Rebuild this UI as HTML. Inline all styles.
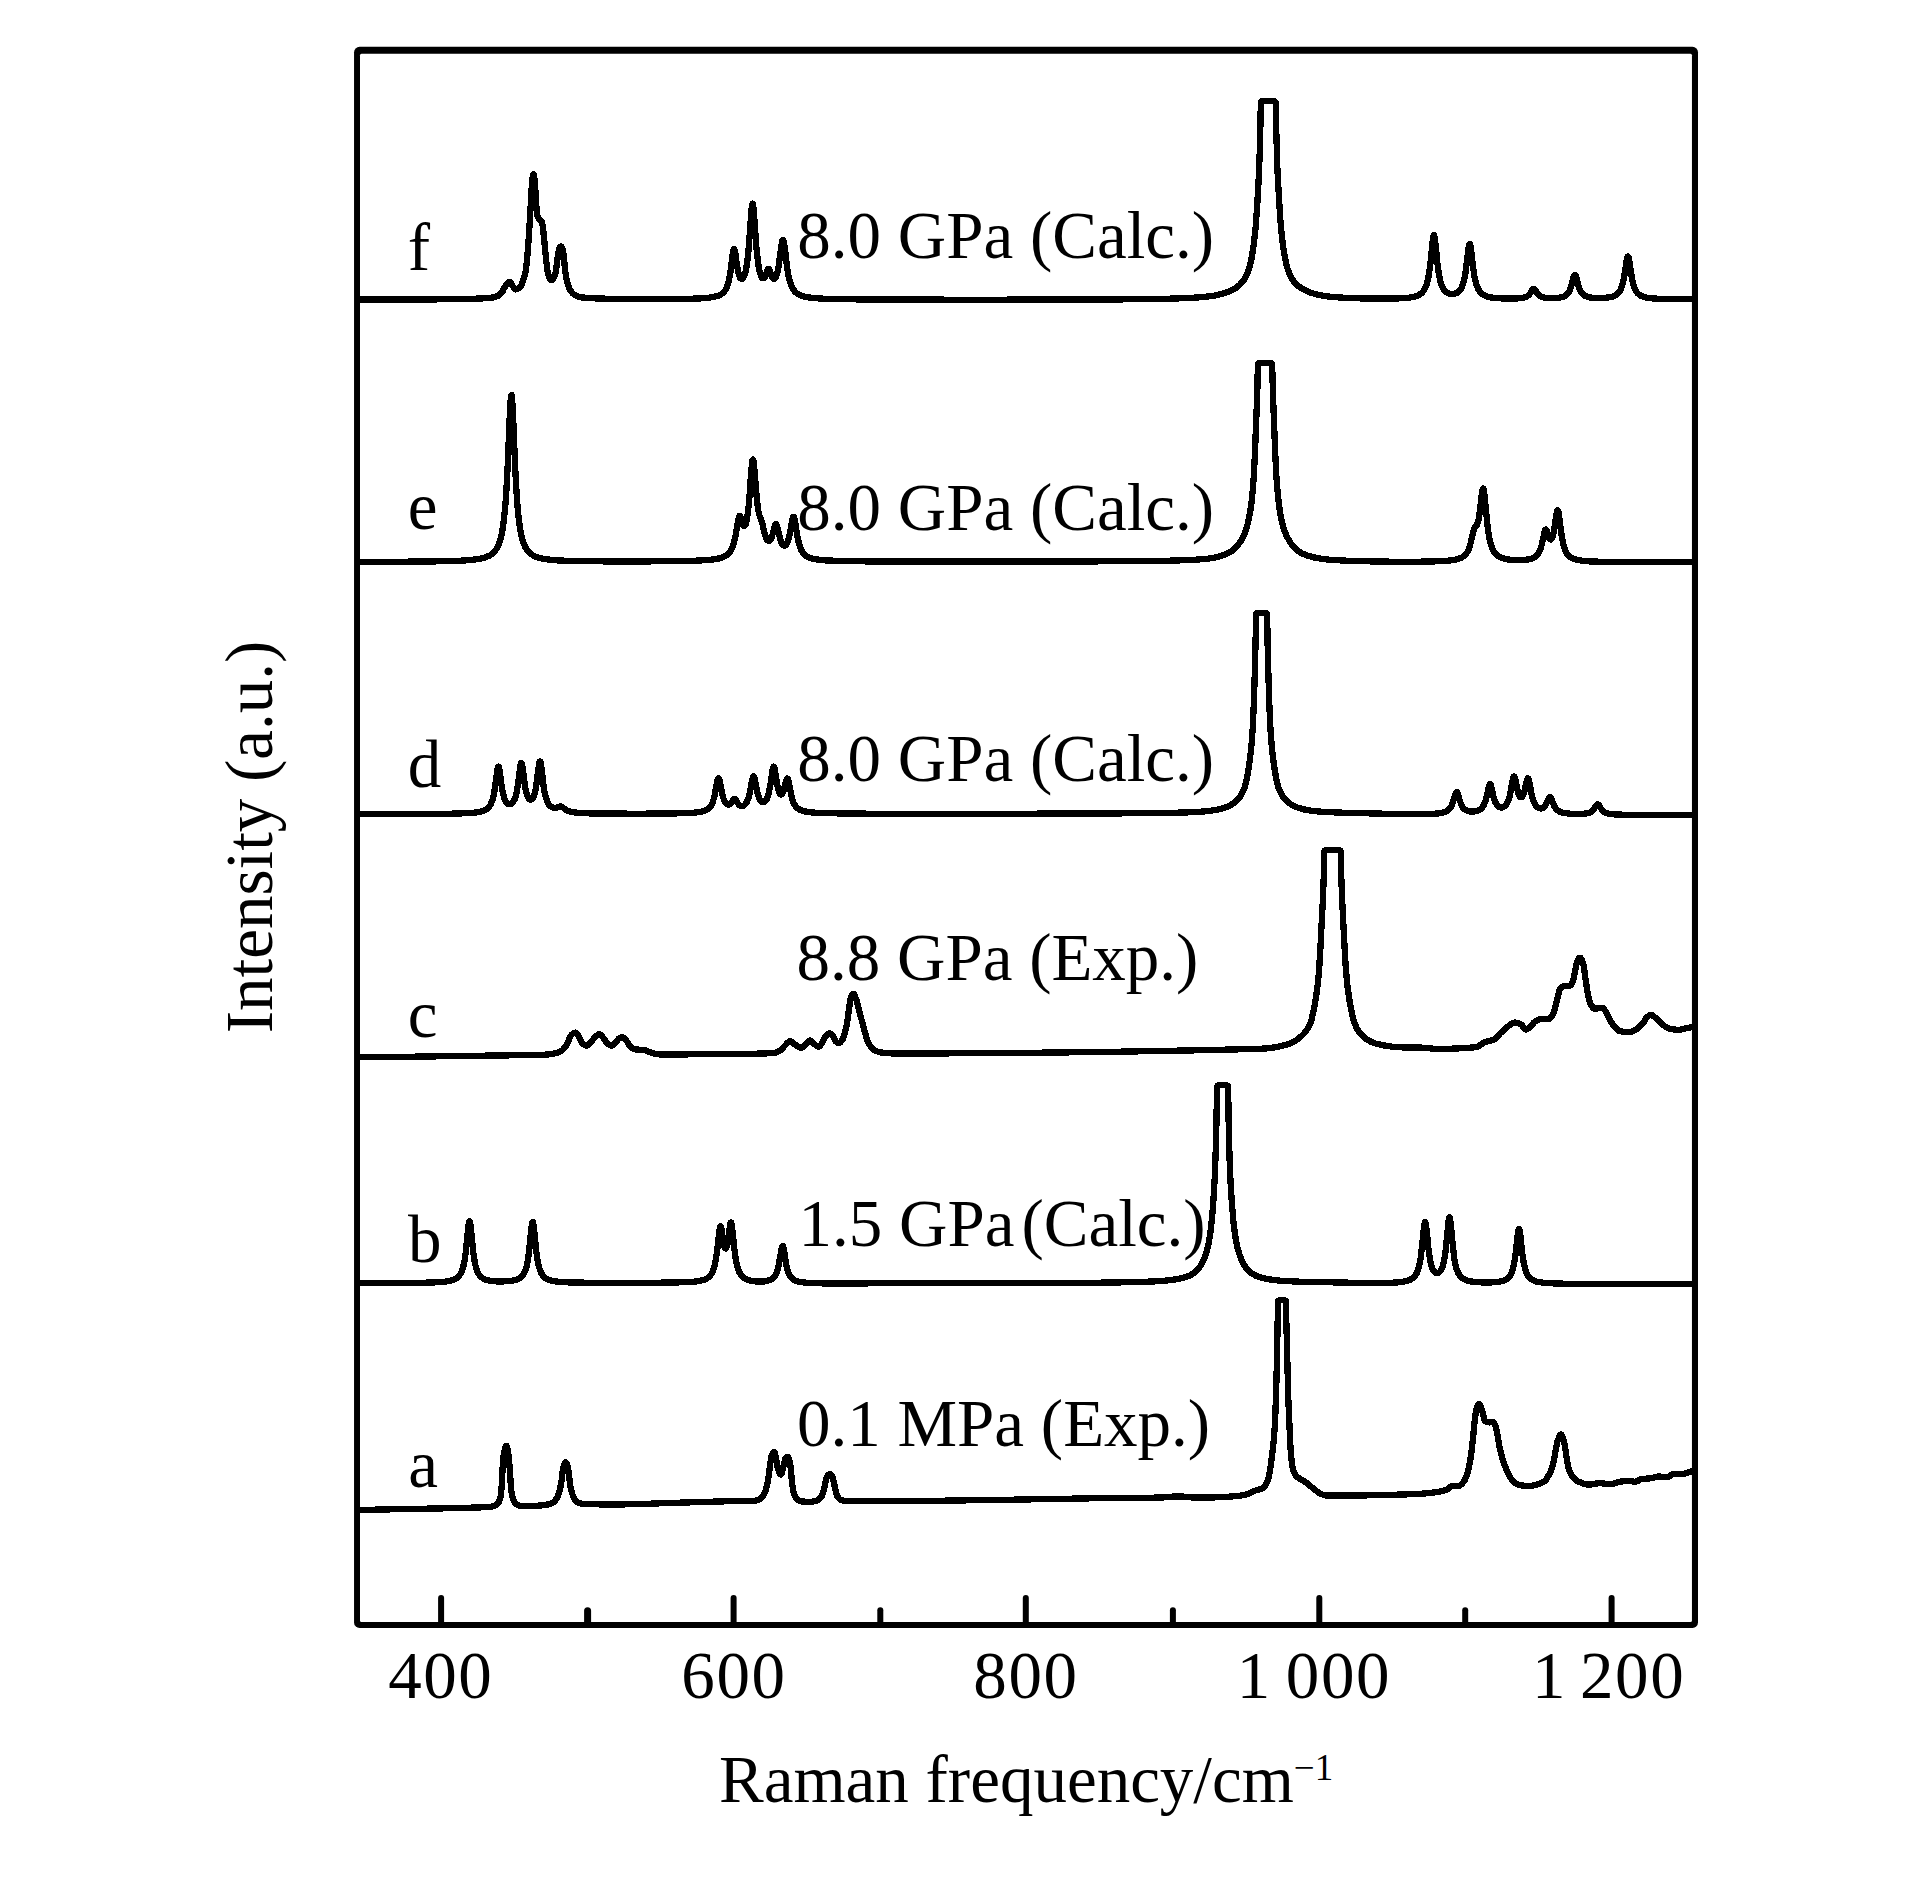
<!DOCTYPE html>
<html lang="en">
<head>
<meta charset="utf-8">
<title>Raman spectra</title>
<style>
html,body{margin:0;padding:0;background:#fff;}
body{width:1923px;height:1883px;overflow:hidden;}
svg{display:block;}
text{font-family:"Liberation Serif",serif;font-size:67px;fill:#000;}
.c{fill:none;stroke:#000;stroke-width:6.3;stroke-linejoin:round;stroke-linecap:butt;shape-rendering:crispEdges;}
.u{fill:none;stroke:#000;stroke-width:4;stroke-linejoin:round;stroke-linecap:butt;}
</style>
</head>
<body>
<svg width="1923" height="1883" viewBox="0 0 1923 1883">
<rect x="0" y="0" width="1923" height="1883" fill="#fff"/>
<rect x="354.05" y="46.8" width="1343.95" height="1581.1" rx="5.5" ry="5.5" fill="#000"/>
<rect x="360.0" y="53.7" width="1331.95" height="1568.4" rx="1.5" ry="1.5" fill="#fff"/>
<line x1="441.1" y1="1623" x2="441.1" y2="1598" stroke="#000" stroke-width="6" stroke-linecap="round"/>
<line x1="733.6" y1="1623" x2="733.6" y2="1598" stroke="#000" stroke-width="6" stroke-linecap="round"/>
<line x1="1025.8" y1="1623" x2="1025.8" y2="1598" stroke="#000" stroke-width="6" stroke-linecap="round"/>
<line x1="1319.3" y1="1623" x2="1319.3" y2="1598" stroke="#000" stroke-width="6" stroke-linecap="round"/>
<line x1="1611.6" y1="1623" x2="1611.6" y2="1598" stroke="#000" stroke-width="6" stroke-linecap="round"/>
<line x1="587.6" y1="1623" x2="587.6" y2="1610.7" stroke="#000" stroke-width="7.0" stroke-linecap="round"/>
<line x1="880.3" y1="1623" x2="880.3" y2="1610.2" stroke="#000" stroke-width="6.0" stroke-linecap="round"/>
<line x1="1172.9" y1="1623" x2="1172.9" y2="1610.2" stroke="#000" stroke-width="6.0" stroke-linecap="round"/>
<line x1="1465.2" y1="1623" x2="1465.2" y2="1610.2" stroke="#000" stroke-width="6.0" stroke-linecap="round"/>
<defs>
<path id="curve-f" d="M357.0,299.6 412.8,299.5 447.5,299.3 459.8,299.1 469.8,298.9 477.8,298.6 484.2,298.3 490.0,297.8 491.2,297.7 492.8,297.5 494.2,297.1 495.8,296.7 498.0,295.8 498.8,295.4 499.5,294.8 500.2,294.2 502.0,292.2 502.8,291.0 504.2,288.0 505.0,286.7 507.5,283.2 508.2,282.4 509.0,282.0 509.5,281.9 509.8,282.0 510.0,282.1 510.5,282.6 511.0,283.3 512.8,286.2 514.5,288.4 515.2,289.1 515.8,289.4 516.5,289.3 517.2,289.1 518.2,288.5 519.8,287.1 520.8,286.0 521.2,285.2 521.8,284.2 522.8,281.6 524.0,277.9 524.8,275.1 525.8,270.2 526.2,266.8 526.8,262.3 527.5,254.5 528.8,237.5 529.8,221.1 532.0,182.0 532.2,179.5 532.8,176.3 533.0,175.1 533.2,174.4 533.5,174.4 533.8,174.9 534.0,176.0 534.5,179.2 534.8,181.4 536.5,208.4 536.8,212.0 537.0,214.2 537.5,216.0 537.8,216.6 538.2,217.7 538.8,218.4 539.8,219.7 541.0,220.7 541.5,221.2 541.8,221.6 542.0,222.2 542.2,223.2 542.8,226.1 543.2,229.7 546.2,260.3 547.2,268.9 547.8,272.3 548.0,273.6 549.0,276.5 549.8,278.2 550.5,279.5 551.0,280.0 551.2,280.2 551.8,280.3 552.2,280.1 552.5,279.9 553.0,279.3 553.5,278.5 554.2,276.8 555.2,274.1 555.5,273.1 555.8,271.8 557.0,262.8 558.0,254.6 558.5,251.7 559.0,249.3 559.2,248.5 559.8,247.6 560.2,246.9 560.8,246.5 561.0,246.4 561.2,246.4 561.5,246.6 562.0,247.5 562.5,248.7 563.0,250.4 563.5,254.0 565.2,271.1 566.0,276.4 566.5,279.3 567.0,281.5 568.0,285.1 568.8,287.2 569.5,288.8 571.0,291.2 572.2,292.8 573.5,294.0 574.2,294.5 575.0,295.0 577.2,296.1 579.2,296.9 581.0,297.3 587.0,297.9 593.2,298.3 600.0,298.5 609.0,298.8 618.2,299.0 633.8,299.2 652.0,299.2 669.2,299.1 683.5,299.0 691.8,298.7 698.5,298.5 704.0,298.1 708.8,297.7 712.5,297.1 715.8,296.4 718.2,295.7 719.5,295.1 720.5,294.6 721.8,293.8 723.0,292.8 724.0,291.8 725.0,290.6 726.0,288.9 726.8,287.4 727.5,285.4 728.0,283.9 729.0,280.0 730.0,274.8 731.0,268.0 732.5,255.9 733.0,252.4 733.5,249.9 733.8,249.2 734.0,248.9 734.2,249.0 734.5,249.5 735.0,251.5 735.5,254.5 737.0,265.2 737.8,269.6 738.5,273.1 739.0,274.9 739.5,276.4 740.0,277.4 740.2,277.9 740.8,278.5 741.2,278.8 741.5,278.9 742.0,278.9 742.5,278.7 742.8,278.5 743.2,277.9 744.0,276.5 744.5,275.3 745.0,273.7 745.5,271.8 746.2,268.3 747.0,263.6 747.8,257.7 748.5,250.3 749.0,244.4 751.0,216.2 751.5,210.0 752.0,205.5 752.2,204.2 752.5,203.6 752.8,203.6 753.0,204.4 753.2,205.9 753.8,210.5 754.2,216.8 755.5,235.0 756.2,245.0 757.0,253.4 757.8,260.1 758.5,265.5 759.0,268.4 759.5,270.8 760.0,272.8 760.5,274.4 761.0,275.8 761.5,276.8 762.2,277.9 762.5,278.1 763.0,278.3 763.5,278.3 763.8,278.3 764.2,277.9 764.8,277.2 765.5,275.8 766.0,274.5 767.2,270.8 767.8,269.6 768.2,268.8 768.5,268.7 768.8,268.7 769.0,268.9 769.5,269.8 770.0,271.1 771.5,275.5 772.2,277.2 772.8,278.0 773.2,278.5 773.5,278.7 774.0,278.8 774.5,278.7 774.8,278.5 775.2,277.9 775.5,277.6 776.2,276.0 776.8,274.6 777.5,271.9 778.0,269.6 778.5,267.0 779.2,262.2 781.2,246.9 781.8,243.6 782.2,241.1 782.5,240.3 782.8,239.8 783.0,239.7 783.2,240.0 783.5,240.6 783.8,241.5 784.2,244.3 784.8,247.9 786.8,264.5 787.5,269.8 788.2,274.2 789.0,277.9 789.8,280.9 790.5,283.4 791.2,285.5 791.8,286.6 792.5,288.1 793.8,290.1 794.5,291.1 795.2,291.9 796.8,293.2 798.5,294.4 799.5,294.9 800.8,295.5 803.2,296.3 806.2,297.0 809.8,297.6 813.8,298.0 818.5,298.4 824.2,298.7 831.0,299.0 839.2,299.2 861.5,299.4 904.5,299.6 972.8,299.7 1049.0,299.6 1105.2,299.5 1131.2,299.3 1152.2,299.0 1169.2,298.7 1183.0,298.2 1194.0,297.7 1200.5,297.2 1204.2,296.9 1208.0,296.5 1211.5,296.0 1214.8,295.5 1217.8,294.9 1221.2,294.0 1224.8,293.0 1228.0,291.8 1231.0,290.6 1233.5,289.3 1236.0,287.8 1238.0,286.3 1240.0,284.5 1241.8,282.6 1243.5,280.4 1245.0,278.1 1246.2,275.8 1247.5,273.0 1248.5,270.3 1249.5,267.1 1250.5,263.3 1251.5,258.6 1252.2,254.4 1253.0,249.6 1253.8,244.3 1255.0,233.6 1255.8,225.7 1256.2,219.7 1257.0,208.6 1258.5,182.8 1259.2,166.7 1259.8,150.9 1260.5,121.7 1260.8,103.1 1261.0,102.1 1261.5,101.4 1262.2,101.0 1263.0,100.9 1273.5,100.9 1274.0,100.9 1274.8,101.3 1275.2,101.7 1275.5,102.1 1275.8,103.1 1276.0,117.5 1276.2,127.8 1277.2,163.9 1277.5,170.5 1278.0,181.0 1279.8,211.0 1280.2,218.4 1280.8,224.6 1281.5,232.6 1282.2,239.4 1283.0,245.4 1284.0,252.3 1284.8,256.7 1285.8,261.8 1286.5,264.9 1287.2,267.6 1288.0,270.0 1289.0,272.8 1289.8,274.6 1290.8,276.6 1291.8,278.4 1292.8,279.9 1294.0,281.6 1295.5,283.4 1297.0,284.9 1298.5,286.2 1300.0,287.3 1301.8,288.5 1303.8,289.6 1305.8,290.6 1309.5,292.2 1311.5,292.9 1313.8,293.6 1318.2,294.8 1323.2,295.7 1328.2,296.5 1333.8,297.0 1341.8,297.6 1349.5,298.0 1361.8,298.4 1375.2,298.6 1387.8,298.6 1398.0,298.4 1404.8,298.1 1407.8,297.8 1410.2,297.5 1412.5,297.1 1414.5,296.6 1416.2,296.1 1417.8,295.5 1419.5,294.6 1421.0,293.6 1422.2,292.5 1423.5,290.9 1424.5,289.4 1425.5,287.3 1426.5,284.7 1427.2,282.2 1428.0,279.0 1428.5,276.5 1429.2,272.0 1429.8,268.4 1430.8,259.7 1432.5,242.2 1433.0,238.3 1433.2,236.9 1433.5,235.8 1433.8,235.3 1434.0,235.2 1434.2,235.7 1434.5,236.6 1435.0,239.6 1435.5,243.9 1437.2,261.3 1438.2,269.5 1439.2,275.8 1439.8,278.4 1440.5,281.5 1441.2,284.0 1442.2,286.6 1443.2,288.5 1444.2,290.0 1445.5,291.4 1446.8,292.4 1448.2,293.2 1449.8,293.7 1450.8,293.9 1451.8,294.0 1452.8,294.0 1453.8,293.9 1454.8,293.7 1455.5,293.5 1456.5,293.1 1457.2,292.7 1458.0,292.2 1458.8,291.6 1460.0,290.2 1460.8,289.1 1461.2,288.3 1462.2,286.1 1463.0,284.0 1463.8,281.4 1464.5,278.2 1465.0,275.6 1465.8,270.9 1466.2,267.2 1468.5,248.5 1469.0,245.6 1469.2,244.7 1469.5,244.1 1469.8,244.0 1470.0,244.3 1470.2,245.0 1470.5,246.1 1471.0,249.3 1473.0,266.3 1473.8,271.9 1474.2,275.1 1474.8,277.9 1475.5,281.4 1476.0,283.3 1476.8,285.7 1477.8,288.2 1478.8,290.1 1480.0,291.9 1481.2,293.3 1482.8,294.5 1484.2,295.3 1486.2,296.2 1488.5,296.9 1491.5,297.5 1495.0,297.9 1499.2,298.3 1504.2,298.5 1510.0,298.6 1515.2,298.5 1519.2,298.3 1522.5,297.9 1524.2,297.5 1525.8,297.0 1527.0,296.4 1528.0,295.7 1529.0,294.8 1529.8,293.9 1530.5,292.8 1532.2,290.0 1532.8,289.4 1533.2,288.9 1533.8,288.8 1534.2,289.0 1534.8,289.5 1535.2,290.1 1537.2,293.3 1538.0,294.3 1538.8,295.1 1539.5,295.7 1540.5,296.4 1541.5,296.9 1542.8,297.3 1544.5,297.7 1546.5,298.0 1549.0,298.2 1551.8,298.2 1554.5,298.1 1557.2,297.9 1559.5,297.6 1561.5,297.2 1562.8,296.8 1563.8,296.4 1564.8,295.9 1565.8,295.3 1566.5,294.7 1567.2,294.0 1568.0,293.1 1568.8,292.0 1569.5,290.6 1570.0,289.5 1571.0,286.7 1571.8,284.2 1573.2,278.4 1574.0,276.0 1574.5,275.0 1574.8,274.8 1575.0,274.8 1575.2,275.0 1575.5,275.3 1576.0,276.5 1576.5,278.2 1578.5,285.7 1579.2,288.0 1580.2,290.4 1581.2,292.2 1582.2,293.6 1583.5,294.8 1584.8,295.7 1585.8,296.2 1586.8,296.6 1588.0,297.0 1589.2,297.3 1592.2,297.8 1596.0,298.0 1600.8,298.1 1605.2,297.8 1609.0,297.4 1610.5,297.1 1612.0,296.7 1613.8,296.1 1615.2,295.4 1616.5,294.6 1617.8,293.6 1618.8,292.4 1619.8,291.0 1620.5,289.6 1621.2,287.9 1622.0,285.8 1622.5,284.1 1623.2,281.1 1623.8,278.7 1624.8,272.8 1626.5,261.1 1627.0,258.5 1627.2,257.5 1627.5,256.8 1627.8,256.5 1628.0,256.4 1628.2,256.7 1628.5,257.3 1629.0,259.4 1629.5,262.3 1631.0,272.6 1631.8,277.1 1632.8,282.0 1633.8,285.7 1634.2,287.2 1635.0,289.1 1635.5,290.1 1636.2,291.4 1637.0,292.5 1638.0,293.6 1639.0,294.5 1640.0,295.2 1641.2,295.9 1642.5,296.5 1644.0,297.0 1645.5,297.3 1647.2,297.7 1649.2,298.0 1654.0,298.5 1660.2,298.8 1668.2,299.1 1679.2,299.2 1694.5,299.3"/>
<path id="curve-e" d="M357.0,561.8 403.5,561.7 433.2,561.4 444.2,561.2 453.2,561.0 460.8,560.7 467.0,560.3 472.5,559.8 477.2,559.2 481.2,558.5 484.5,557.6 486.0,557.1 487.5,556.5 488.8,556.0 490.0,555.3 491.2,554.5 492.2,553.7 494.0,552.1 495.0,550.9 495.8,549.9 496.8,548.4 497.5,547.0 498.2,545.4 499.0,543.6 500.2,539.8 501.0,537.0 501.5,534.9 502.5,529.7 503.5,523.1 504.2,516.8 505.0,509.1 505.8,499.8 506.5,488.3 507.0,479.4 507.8,463.9 509.5,421.7 510.2,405.9 510.8,398.6 511.0,396.4 511.2,395.2 511.5,395.1 511.8,396.1 512.0,398.1 512.2,401.1 512.8,409.7 515.2,468.3 516.0,483.1 516.8,495.5 517.5,505.6 518.5,516.3 519.5,524.5 520.5,530.8 521.2,534.6 522.0,537.8 522.8,540.5 523.5,542.8 524.2,544.7 525.2,546.9 526.2,548.7 527.5,550.5 528.8,552.0 530.0,553.2 531.5,554.4 533.0,555.3 534.8,556.3 536.5,557.0 538.8,557.7 541.0,558.3 543.5,558.8 546.5,559.3 549.8,559.7 553.5,560.1 557.8,560.4 562.5,560.6 574.0,561.0 590.5,561.3 612.5,561.4 640.0,561.4 665.0,561.3 679.0,561.1 690.2,560.9 699.2,560.5 706.5,560.1 712.2,559.5 714.8,559.2 717.0,558.8 719.0,558.4 720.8,557.9 722.5,557.3 724.0,556.7 725.5,555.9 727.0,554.9 728.2,553.8 729.2,552.7 730.2,551.4 731.2,549.8 732.0,548.3 732.8,546.5 733.5,544.3 734.0,542.5 735.0,538.4 736.0,533.2 737.8,522.5 738.2,519.7 738.8,517.6 739.2,516.2 739.5,515.9 739.8,515.8 740.0,515.9 740.2,516.2 740.5,516.8 741.0,518.2 742.2,522.4 742.8,523.9 743.2,525.0 743.8,525.7 744.0,525.9 744.2,526.0 744.5,525.9 744.8,525.8 745.0,525.5 745.5,524.6 746.0,523.2 746.8,520.0 747.2,517.2 747.8,513.7 748.2,509.5 748.8,504.6 749.5,495.9 751.2,472.0 751.8,466.1 752.2,461.8 752.5,460.4 752.8,459.7 753.0,459.5 753.2,460.0 753.5,461.1 754.0,464.9 754.5,470.3 756.0,489.7 756.8,498.2 757.5,505.0 758.2,510.2 758.8,512.7 759.5,515.5 761.2,520.0 762.0,522.3 762.8,525.3 764.2,531.7 765.0,534.5 766.0,537.5 766.5,538.6 767.0,539.6 767.5,540.2 768.0,540.7 768.5,541.0 769.0,541.0 769.5,540.8 770.0,540.4 770.8,539.4 771.5,537.8 772.2,535.6 773.0,532.9 774.5,526.9 775.0,525.3 775.5,524.3 775.8,524.0 776.0,524.0 776.2,524.2 776.5,524.5 777.0,525.8 777.8,528.6 779.0,534.3 779.8,537.4 780.5,540.0 781.0,541.4 781.5,542.6 782.0,543.6 782.5,544.3 783.0,544.9 783.5,545.3 784.0,545.5 784.5,545.6 784.8,545.6 785.2,545.4 785.8,545.0 786.5,544.2 787.2,542.8 788.0,541.0 788.5,539.4 789.2,536.6 790.0,533.0 791.8,522.8 792.5,519.0 793.0,517.4 793.2,516.9 793.5,516.7 793.8,516.8 794.0,517.2 794.2,517.8 794.5,518.7 795.0,521.1 797.2,535.2 797.8,538.0 798.5,541.5 799.0,543.6 799.8,546.1 800.5,548.3 801.2,550.0 802.2,551.8 803.2,553.2 804.5,554.6 806.0,555.9 807.5,556.8 809.2,557.6 811.2,558.3 813.8,558.9 817.0,559.5 821.0,560.0 825.8,560.4 831.2,560.6 838.0,560.9 846.2,561.1 868.8,561.4 911.5,561.5 979.0,561.6 1050.8,561.5 1119.0,561.3 1141.0,561.1 1158.8,560.9 1173.2,560.6 1185.2,560.2 1197.2,559.6 1203.5,559.1 1206.8,558.8 1210.0,558.3 1213.0,557.8 1215.8,557.3 1219.0,556.5 1222.2,555.5 1225.2,554.5 1227.5,553.5 1229.8,552.3 1231.8,551.0 1233.8,549.4 1235.5,547.8 1237.2,545.8 1239.0,543.6 1240.8,541.0 1242.2,538.4 1243.8,535.4 1245.0,532.4 1246.2,529.0 1247.2,525.7 1248.2,521.8 1249.2,517.2 1250.2,511.4 1251.0,506.3 1251.8,500.1 1252.5,492.8 1253.2,483.9 1253.8,476.8 1254.2,467.8 1254.8,457.0 1257.0,400.0 1257.5,384.9 1257.8,365.2 1258.0,364.2 1258.2,363.8 1258.8,363.4 1259.5,363.0 1260.0,363.0 1270.0,363.0 1270.8,363.1 1271.5,363.5 1272.0,364.2 1272.2,365.2 1272.5,377.7 1273.2,401.5 1275.2,452.3 1276.2,473.5 1277.0,484.6 1278.0,495.9 1278.5,500.6 1279.2,506.7 1279.8,510.2 1280.5,514.8 1281.2,518.7 1282.0,522.1 1283.0,526.0 1284.0,529.2 1285.0,532.0 1286.2,535.0 1287.5,537.6 1288.8,539.9 1290.2,542.3 1291.8,544.5 1293.5,546.6 1295.2,548.5 1297.0,550.0 1299.0,551.5 1301.0,552.8 1303.2,553.9 1305.0,554.7 1307.2,555.5 1309.5,556.2 1312.0,556.9 1314.5,557.5 1317.0,558.1 1319.8,558.5 1322.8,559.0 1329.2,559.7 1337.5,560.2 1346.8,560.7 1357.5,561.1 1377.0,561.5 1400.0,561.8 1417.8,561.7 1431.8,561.5 1441.8,561.1 1445.8,560.9 1449.2,560.5 1452.2,560.2 1455.0,559.7 1457.2,559.2 1459.2,558.5 1460.8,557.9 1462.0,557.3 1463.2,556.5 1464.2,555.7 1465.2,554.8 1466.2,553.6 1467.0,552.5 1467.8,551.2 1468.5,549.6 1469.0,548.4 1469.8,546.3 1470.2,544.7 1471.2,540.8 1473.2,531.9 1473.8,529.9 1474.2,528.4 1474.5,527.8 1475.0,526.8 1475.5,526.2 1476.5,525.3 1477.0,524.6 1477.5,523.5 1477.8,522.8 1478.5,519.9 1479.2,515.6 1480.0,510.0 1481.5,496.5 1482.0,492.5 1482.5,489.7 1482.8,488.8 1483.0,488.4 1483.2,488.4 1483.5,489.0 1483.8,489.9 1484.2,493.1 1485.0,500.1 1486.8,518.8 1487.5,525.6 1488.0,529.6 1488.5,533.1 1489.2,537.5 1490.0,541.0 1490.8,544.0 1491.8,547.1 1492.8,549.5 1494.0,551.8 1495.2,553.5 1496.0,554.3 1496.8,555.0 1498.2,556.2 1500.0,557.2 1502.2,558.1 1504.2,558.7 1506.2,559.2 1508.5,559.5 1511.0,559.8 1513.8,560.0 1516.8,560.1 1519.8,560.1 1522.8,560.0 1525.0,559.8 1527.2,559.6 1529.0,559.3 1530.8,558.8 1532.2,558.3 1533.8,557.7 1535.0,557.0 1536.0,556.2 1537.2,555.0 1538.0,554.0 1538.5,553.2 1539.5,551.4 1540.5,548.9 1541.2,546.6 1542.0,543.8 1544.5,532.2 1545.0,530.6 1545.2,530.0 1545.5,529.7 1545.8,529.5 1546.0,529.6 1546.2,529.8 1546.5,530.2 1547.0,531.4 1548.8,536.9 1549.2,538.0 1549.8,538.9 1550.2,539.3 1550.5,539.5 1550.8,539.5 1551.0,539.4 1551.5,539.0 1552.0,538.1 1552.5,536.9 1553.0,535.2 1553.5,533.1 1554.0,530.5 1554.8,525.8 1556.2,515.2 1556.8,512.4 1557.0,511.4 1557.2,510.6 1557.5,510.2 1557.8,510.2 1558.0,510.6 1558.2,511.3 1558.5,512.4 1559.0,515.4 1561.0,531.1 1562.0,537.8 1563.0,542.9 1563.5,545.0 1564.2,547.6 1565.0,549.7 1566.0,551.9 1567.0,553.6 1568.0,554.9 1569.2,556.2 1570.5,557.2 1572.0,558.1 1573.8,558.8 1575.5,559.4 1577.8,560.0 1580.2,560.4 1583.0,560.8 1586.2,561.1 1590.0,561.4 1599.2,561.7 1612.2,562.0 1630.5,562.2 1694.5,562.3"/>
<path id="curve-d" d="M357.0,814.2 423.8,814.0 442.8,813.8 456.2,813.6 466.2,813.2 470.2,813.0 473.5,812.7 476.2,812.4 478.8,812.0 481.0,811.5 482.8,811.0 484.5,810.3 486.0,809.5 487.2,808.6 488.5,807.5 489.5,806.3 490.5,804.7 491.2,803.2 492.0,801.3 493.0,798.1 494.0,793.6 494.5,790.8 495.2,785.9 497.2,770.7 497.8,768.0 498.0,767.2 498.2,766.7 498.5,766.6 498.8,767.0 499.0,767.7 499.5,770.1 500.0,773.4 501.2,783.0 502.0,788.0 503.0,793.4 503.5,795.4 504.0,797.2 504.5,798.7 505.2,800.5 506.0,801.8 506.8,802.8 507.5,803.5 508.0,803.8 508.5,804.0 509.0,804.2 509.5,804.2 510.0,804.2 510.5,804.1 511.2,803.8 512.0,803.2 512.8,802.5 513.5,801.4 514.2,800.0 514.8,798.9 515.5,796.7 516.0,794.9 517.0,790.3 517.8,785.7 520.2,766.6 520.8,764.1 521.0,763.3 521.2,763.0 521.5,763.1 521.8,763.6 522.2,765.8 522.8,769.0 524.0,778.9 524.8,784.3 525.5,788.7 526.0,791.2 526.5,793.2 527.0,794.9 527.5,796.3 528.0,797.4 528.5,798.2 529.0,798.9 529.8,799.5 530.2,799.7 530.8,799.7 531.0,799.7 531.8,799.3 532.2,798.8 532.8,798.2 533.2,797.3 533.8,796.1 534.2,794.7 535.0,792.0 535.8,788.4 536.5,783.9 537.2,778.3 538.5,768.0 539.0,764.5 539.5,762.2 539.8,761.6 540.0,761.4 540.2,761.7 540.5,762.4 541.0,764.9 541.5,768.5 542.8,779.3 543.5,785.2 544.2,790.1 545.0,794.0 545.8,797.1 546.8,800.3 547.8,802.6 548.2,803.5 549.0,804.6 550.0,805.8 551.0,806.6 552.0,807.2 553.2,807.7 554.2,807.8 555.5,807.8 556.8,807.5 559.5,806.6 560.2,806.6 561.0,806.6 561.8,806.9 562.5,807.3 565.0,809.1 566.5,810.1 567.8,810.7 569.2,811.3 571.2,811.8 573.5,812.2 576.2,812.6 579.8,812.9 584.8,813.2 591.0,813.4 609.2,813.6 639.5,813.7 667.5,813.5 681.2,813.3 690.8,812.9 694.5,812.6 697.5,812.3 700.0,811.9 702.2,811.5 704.0,811.0 705.5,810.4 706.8,809.8 708.0,809.0 709.0,808.1 710.0,807.0 711.0,805.6 711.8,804.3 712.5,802.6 713.0,801.2 714.0,797.9 714.5,795.8 715.2,792.2 717.2,781.3 717.8,779.3 718.0,778.6 718.2,778.2 718.5,778.0 718.8,778.1 719.0,778.5 719.5,780.0 720.0,782.2 722.0,792.7 722.8,795.9 723.5,798.5 724.2,800.5 724.8,801.5 725.2,802.4 725.8,803.1 726.2,803.7 726.8,804.1 727.2,804.4 728.0,804.7 728.8,804.7 729.5,804.5 730.0,804.2 730.5,803.8 731.2,803.0 733.5,799.7 734.0,799.2 734.5,799.0 734.8,799.0 735.0,799.1 735.5,799.6 736.0,800.2 737.5,802.7 738.2,803.8 739.2,804.9 740.2,805.6 740.8,805.8 741.5,806.0 742.0,806.0 742.8,805.9 743.5,805.6 744.0,805.4 744.8,804.8 745.2,804.3 746.2,803.0 747.2,801.2 748.0,799.3 748.8,797.0 749.5,794.0 750.0,791.7 752.2,779.5 752.8,777.5 753.0,776.8 753.2,776.4 753.5,776.2 753.8,776.3 754.0,776.7 754.5,778.2 755.0,780.4 756.5,788.5 757.2,792.1 758.0,795.0 758.8,797.3 759.2,798.6 759.8,799.6 760.2,800.4 761.0,801.3 761.5,801.8 762.2,802.2 762.8,802.3 763.5,802.3 764.2,802.0 764.8,801.7 765.5,801.0 766.0,800.3 766.8,799.0 767.2,797.9 767.8,796.6 768.2,795.0 769.2,791.0 770.0,787.1 770.8,782.4 772.2,771.9 772.8,769.1 773.2,767.2 773.5,766.7 773.8,766.6 774.0,766.8 774.2,767.3 774.8,769.2 775.2,772.0 777.0,783.2 778.0,788.3 778.5,790.2 779.0,791.7 779.5,792.9 779.8,793.4 780.2,794.1 780.5,794.3 781.0,794.5 781.5,794.5 781.8,794.3 782.2,793.8 782.5,793.4 783.0,792.5 783.5,791.2 784.2,788.6 786.2,780.3 786.8,779.0 787.0,778.6 787.2,778.5 787.5,778.6 787.8,778.9 788.0,779.5 788.5,781.2 789.0,783.6 790.8,792.9 791.2,795.2 792.0,798.1 792.8,800.5 793.5,802.5 794.2,804.1 795.2,805.7 796.5,807.3 797.8,808.4 799.2,809.4 801.0,810.2 803.0,810.9 805.5,811.5 808.2,812.0 811.8,812.4 815.8,812.7 820.2,813.0 832.8,813.3 850.8,813.6 877.2,813.7 937.0,813.7 1023.5,813.7 1083.8,813.5 1138.5,813.3 1157.0,813.1 1172.0,812.8 1184.0,812.5 1195.0,812.1 1202.2,811.6 1208.5,811.0 1214.2,810.2 1219.2,809.3 1222.0,808.6 1224.5,807.8 1227.0,806.9 1229.2,805.9 1231.5,804.6 1233.5,803.3 1235.2,802.0 1237.0,800.4 1238.5,798.7 1239.8,797.2 1241.0,795.3 1242.2,793.1 1243.5,790.4 1244.5,787.8 1245.2,785.5 1246.0,782.6 1247.0,777.9 1248.0,772.3 1249.2,764.2 1250.2,756.7 1251.0,750.0 1251.8,741.8 1252.2,735.2 1252.8,727.3 1253.2,717.1 1253.8,704.6 1254.8,673.0 1255.5,643.9 1255.8,631.8 1256.0,614.9 1256.2,613.9 1256.5,613.5 1257.0,613.1 1257.8,612.7 1258.2,612.7 1265.0,612.7 1265.8,612.8 1266.5,613.2 1267.0,613.9 1267.2,614.9 1267.5,639.3 1268.0,660.4 1269.0,694.4 1269.5,708.6 1270.0,720.4 1270.8,733.8 1271.8,746.4 1272.2,751.4 1273.0,757.9 1274.5,768.6 1276.0,777.4 1276.8,781.1 1277.5,784.2 1278.2,786.8 1279.0,788.9 1280.0,791.3 1281.0,793.4 1282.2,795.6 1283.5,797.4 1285.0,799.2 1286.5,800.8 1288.2,802.3 1290.2,803.8 1292.2,805.0 1294.5,806.2 1297.2,807.4 1300.2,808.4 1303.5,809.3 1307.0,810.0 1311.5,810.7 1316.5,811.3 1321.8,811.7 1327.5,812.1 1339.5,812.6 1362.0,813.2 1378.5,813.6 1396.2,813.9 1411.8,814.1 1423.5,814.1 1430.0,813.9 1436.5,813.6 1439.0,813.3 1441.0,813.0 1443.0,812.6 1444.5,812.2 1446.0,811.6 1447.2,810.9 1448.2,810.2 1449.2,809.2 1450.0,808.3 1450.8,807.2 1451.5,805.8 1452.0,804.7 1452.5,803.4 1453.2,801.2 1455.0,795.1 1455.5,793.6 1456.0,792.5 1456.2,792.2 1456.5,792.0 1456.8,792.0 1457.0,792.2 1457.2,792.5 1457.8,793.7 1458.2,795.2 1460.0,801.1 1460.8,803.3 1461.2,804.5 1461.8,805.6 1462.5,806.9 1463.0,807.6 1463.8,808.5 1464.8,809.4 1465.8,810.1 1467.0,810.7 1468.2,811.1 1469.8,811.4 1471.2,811.5 1473.0,811.5 1474.5,811.4 1476.0,811.1 1477.5,810.7 1478.8,810.2 1480.0,809.5 1481.0,808.7 1482.0,807.7 1482.8,806.7 1483.5,805.5 1484.5,803.4 1485.5,800.6 1486.0,798.9 1486.8,795.9 1488.8,786.9 1489.2,785.2 1489.5,784.7 1489.8,784.3 1490.0,784.2 1490.2,784.3 1490.5,784.6 1490.8,785.1 1491.2,786.7 1493.2,795.4 1494.0,798.3 1494.5,799.9 1495.5,802.5 1496.0,803.5 1496.8,804.7 1497.5,805.7 1498.5,806.6 1499.5,807.1 1500.0,807.3 1500.8,807.5 1501.2,807.5 1502.0,807.5 1503.0,807.2 1504.0,806.7 1505.0,806.0 1505.8,805.2 1506.2,804.6 1507.2,802.9 1508.2,800.6 1509.0,798.4 1509.8,795.6 1510.5,792.1 1512.5,781.0 1513.0,778.7 1513.5,777.1 1513.8,776.6 1514.0,776.4 1514.2,776.5 1514.5,776.8 1515.0,778.1 1515.5,780.2 1517.2,788.9 1518.0,792.0 1518.5,793.6 1519.0,794.9 1519.8,796.4 1520.2,797.0 1520.5,797.1 1521.0,797.3 1521.5,797.3 1521.8,797.1 1522.2,796.6 1523.0,795.4 1523.5,794.2 1524.0,792.7 1524.8,789.9 1526.5,781.8 1527.0,779.9 1527.5,778.6 1527.8,778.3 1528.0,778.3 1528.2,778.5 1528.5,779.0 1528.8,779.6 1529.2,781.6 1531.2,792.2 1532.0,795.7 1532.8,798.6 1533.8,801.6 1534.2,802.7 1535.0,804.2 1535.8,805.4 1536.5,806.3 1537.2,807.0 1538.0,807.6 1538.8,808.0 1539.8,808.3 1541.0,808.4 1541.8,808.3 1542.2,808.2 1543.0,807.9 1543.5,807.6 1544.5,806.7 1545.5,805.3 1546.2,804.0 1547.0,802.4 1548.5,798.7 1549.0,797.7 1549.5,797.1 1549.8,796.9 1550.0,796.9 1550.2,797.0 1550.5,797.2 1550.8,797.5 1551.2,798.5 1553.2,803.8 1554.5,806.5 1555.5,808.1 1556.0,808.8 1556.8,809.6 1557.5,810.3 1558.5,811.0 1559.5,811.5 1560.5,812.0 1561.8,812.4 1563.0,812.7 1566.2,813.3 1569.0,813.6 1572.2,813.8 1576.0,813.9 1579.5,813.9 1582.2,813.8 1584.8,813.6 1586.8,813.3 1588.5,812.9 1589.8,812.5 1590.8,812.0 1591.8,811.4 1592.5,810.8 1593.2,810.0 1594.0,809.0 1596.5,805.1 1597.0,804.5 1597.2,804.3 1597.8,804.2 1598.2,804.4 1598.5,804.6 1599.0,805.2 1601.0,808.5 1602.0,809.9 1603.0,811.0 1604.0,811.8 1605.5,812.6 1607.2,813.3 1609.2,813.7 1611.8,814.1 1615.0,814.4 1619.0,814.6 1631.5,814.9 1654.0,815.0 1694.5,815.2"/>
<path id="curve-c" d="M357.0,1057.0 384.0,1056.9 412.2,1056.7 481.0,1055.7 522.8,1055.2 541.2,1054.9 545.8,1054.6 550.2,1054.2 552.2,1053.9 554.0,1053.6 555.8,1053.2 557.5,1052.7 559.2,1052.1 560.2,1051.6 561.0,1051.2 562.0,1050.4 563.0,1049.5 564.2,1048.1 565.0,1047.2 565.8,1046.1 566.5,1044.8 568.5,1040.8 570.2,1036.8 571.0,1035.5 572.0,1034.4 573.2,1033.4 574.2,1032.8 574.8,1032.7 575.2,1032.6 575.8,1032.7 576.2,1033.0 577.0,1033.8 577.8,1034.9 579.5,1037.6 580.0,1038.6 581.2,1041.5 582.0,1042.9 583.0,1043.8 584.0,1044.6 585.0,1045.3 585.8,1045.6 586.5,1045.7 587.0,1045.7 587.8,1045.4 588.5,1044.8 589.5,1043.9 591.2,1042.1 592.0,1041.1 593.8,1038.3 594.5,1037.4 596.2,1035.9 597.5,1035.0 598.5,1034.5 599.0,1034.4 599.5,1034.4 600.0,1034.6 600.8,1035.0 601.2,1035.4 602.0,1036.2 604.5,1039.3 606.0,1041.8 606.8,1042.9 608.8,1044.5 609.5,1045.0 610.2,1045.3 611.0,1045.5 611.5,1045.5 612.0,1045.4 612.8,1045.0 614.0,1044.0 616.0,1042.1 617.8,1039.7 618.5,1038.9 619.8,1038.1 620.8,1037.6 621.8,1037.3 622.5,1037.2 623.0,1037.4 623.5,1037.7 624.5,1038.5 627.0,1041.5 628.8,1044.3 629.5,1045.3 631.0,1046.9 632.0,1047.8 633.0,1048.6 633.8,1049.0 634.5,1049.3 636.2,1049.5 642.8,1049.9 645.2,1050.2 646.0,1050.4 647.0,1050.8 650.8,1052.6 652.2,1053.2 656.2,1054.0 659.5,1054.4 661.5,1054.6 664.2,1054.6 679.8,1054.4 717.0,1054.2 736.8,1054.0 750.8,1053.8 763.5,1053.5 769.0,1053.3 773.5,1053.0 775.0,1052.7 776.8,1052.1 778.8,1051.3 780.2,1050.5 781.5,1049.3 784.0,1046.5 785.5,1045.0 787.8,1042.6 788.5,1042.0 789.0,1041.7 789.5,1041.4 790.0,1041.3 790.8,1041.4 791.2,1041.6 791.8,1041.9 794.2,1043.9 795.8,1044.9 798.2,1046.7 799.5,1047.4 800.5,1047.7 801.2,1047.8 801.8,1047.7 802.2,1047.5 803.0,1047.0 806.2,1044.0 808.8,1041.2 809.5,1040.7 810.0,1040.5 810.2,1040.5 810.8,1040.6 811.5,1041.1 814.2,1044.0 816.8,1045.9 817.5,1046.3 818.0,1046.5 818.5,1046.6 819.0,1046.5 819.8,1046.0 820.5,1045.2 822.8,1041.9 823.2,1040.9 824.8,1037.5 825.2,1036.6 826.5,1035.3 827.5,1034.4 828.5,1033.7 829.2,1033.5 829.8,1033.5 830.5,1033.8 831.2,1034.4 832.2,1035.4 833.8,1037.4 835.0,1040.1 835.5,1041.1 836.8,1042.3 837.5,1042.8 838.2,1043.2 838.8,1043.2 839.0,1043.1 839.8,1042.8 840.5,1042.1 841.2,1041.3 842.2,1040.0 842.8,1039.2 843.2,1038.0 843.8,1036.7 845.2,1031.7 846.2,1027.4 847.2,1021.9 847.8,1018.5 848.8,1010.4 849.8,1003.4 850.2,1000.5 850.5,999.4 851.0,997.8 852.0,995.1 852.5,994.2 852.8,993.9 853.0,993.7 853.2,993.7 853.5,993.8 853.8,994.0 854.0,994.3 854.5,995.2 855.2,996.9 856.5,1000.2 857.2,1002.9 859.0,1010.0 864.5,1030.8 866.8,1038.7 867.5,1040.8 868.2,1042.4 869.5,1044.7 870.2,1045.8 871.0,1046.8 873.0,1048.8 874.0,1049.7 874.8,1050.3 876.0,1051.0 877.8,1051.6 880.2,1052.3 882.8,1052.7 890.0,1053.3 897.0,1053.6 922.5,1053.6 956.0,1053.3 1038.0,1052.7 1082.8,1052.2 1118.5,1051.7 1197.5,1050.3 1257.2,1048.9 1263.5,1048.6 1268.5,1048.2 1273.8,1047.5 1279.2,1046.4 1283.5,1045.4 1287.8,1044.3 1289.8,1043.7 1291.5,1042.9 1293.8,1041.8 1296.2,1040.2 1298.5,1038.6 1301.0,1036.5 1303.2,1034.3 1304.8,1032.7 1306.2,1030.8 1307.5,1028.8 1309.0,1026.0 1310.5,1022.6 1311.5,1019.8 1312.2,1016.9 1313.2,1012.3 1314.5,1005.9 1315.5,1000.2 1316.2,995.4 1317.0,990.0 1317.8,983.8 1318.2,979.0 1318.8,973.4 1319.5,963.5 1320.2,951.4 1322.8,901.8 1323.5,883.8 1324.0,869.0 1324.2,852.0 1324.5,851.0 1325.0,850.3 1325.8,849.9 1326.5,849.8 1338.5,849.8 1339.0,849.8 1339.8,850.2 1340.2,850.6 1340.5,851.0 1340.8,852.0 1341.0,869.0 1341.8,890.1 1342.5,907.0 1345.0,955.9 1346.0,970.3 1346.8,979.0 1347.2,983.8 1348.0,990.0 1349.2,998.6 1350.2,1004.5 1351.2,1009.8 1352.2,1014.7 1353.2,1018.8 1354.0,1021.3 1355.0,1024.0 1356.2,1026.9 1357.2,1029.0 1358.5,1031.2 1359.5,1032.7 1360.5,1033.9 1362.5,1035.8 1364.5,1037.6 1366.8,1039.3 1369.0,1040.7 1371.2,1041.9 1373.2,1042.8 1375.5,1043.5 1379.2,1044.4 1383.0,1045.2 1387.0,1046.0 1390.8,1046.5 1394.5,1047.0 1398.2,1047.2 1403.0,1047.4 1421.5,1047.6 1425.5,1047.9 1434.8,1048.8 1437.5,1048.9 1439.8,1049.0 1445.0,1048.9 1451.0,1048.7 1464.8,1048.1 1470.0,1047.7 1474.5,1047.3 1476.5,1047.0 1477.2,1046.8 1478.0,1046.5 1479.0,1045.9 1482.8,1043.2 1484.2,1042.3 1485.2,1042.0 1486.5,1041.6 1492.0,1040.3 1493.5,1039.8 1494.5,1039.3 1495.2,1038.8 1496.2,1037.9 1500.2,1033.3 1503.8,1030.0 1505.5,1028.4 1507.0,1027.1 1511.0,1024.2 1512.2,1023.4 1513.5,1022.9 1514.2,1022.7 1514.8,1022.6 1515.5,1022.6 1516.2,1022.7 1517.8,1023.1 1519.8,1023.9 1521.2,1024.7 1521.8,1025.1 1522.5,1025.9 1524.2,1028.3 1525.0,1029.0 1525.5,1029.3 1525.8,1029.4 1526.2,1029.4 1527.0,1029.2 1527.8,1028.8 1528.5,1028.3 1530.8,1026.6 1531.5,1025.8 1533.5,1023.0 1534.2,1022.2 1536.0,1020.9 1537.5,1020.0 1538.8,1019.4 1539.8,1019.2 1548.2,1019.2 1548.8,1019.1 1549.5,1018.8 1550.2,1018.2 1551.2,1017.1 1552.2,1015.8 1552.8,1014.9 1553.5,1013.0 1555.2,1007.2 1557.8,997.0 1559.0,991.4 1559.5,989.9 1559.8,989.4 1560.2,988.8 1561.2,987.8 1562.2,987.0 1563.2,986.5 1564.0,986.2 1565.0,986.0 1568.8,985.7 1570.2,985.5 1570.8,985.3 1571.2,984.7 1571.8,983.8 1572.2,982.6 1573.2,979.9 1573.5,979.0 1574.2,975.5 1576.5,963.6 1577.0,961.6 1577.8,960.0 1578.5,958.8 1579.2,958.0 1579.8,957.7 1580.0,957.7 1580.5,957.9 1581.0,958.5 1581.5,959.3 1582.5,961.5 1583.2,963.7 1583.5,964.5 1584.0,967.4 1585.2,977.0 1586.5,985.4 1587.2,990.0 1588.5,996.8 1589.2,1000.3 1589.8,1002.1 1590.0,1002.8 1590.8,1004.3 1591.8,1006.0 1592.8,1007.4 1593.5,1008.2 1594.2,1008.6 1594.8,1008.7 1596.0,1008.6 1600.2,1007.9 1601.8,1007.7 1602.5,1007.7 1602.8,1007.8 1603.2,1008.2 1603.8,1008.7 1604.5,1009.7 1606.8,1013.2 1607.5,1014.6 1610.0,1019.9 1611.8,1022.9 1613.0,1024.9 1614.0,1026.2 1616.0,1028.4 1617.2,1029.6 1618.5,1030.6 1619.5,1031.0 1621.8,1031.5 1624.8,1031.9 1627.8,1032.1 1629.5,1032.1 1630.5,1032.0 1631.8,1031.6 1633.0,1031.1 1636.8,1029.0 1638.0,1028.1 1639.2,1027.0 1641.0,1025.3 1643.0,1023.1 1643.8,1022.0 1645.8,1018.6 1646.5,1017.6 1647.8,1016.5 1649.0,1015.6 1650.0,1015.1 1650.8,1014.9 1651.2,1014.9 1652.0,1015.2 1652.8,1015.6 1653.5,1016.1 1657.2,1019.5 1660.8,1023.2 1661.5,1023.8 1663.2,1025.1 1665.2,1026.5 1666.8,1027.4 1668.2,1028.2 1669.5,1028.6 1672.2,1029.2 1674.8,1029.6 1677.0,1029.8 1679.0,1029.8 1680.2,1029.6 1681.5,1029.4 1686.8,1028.1 1694.5,1026.6"/>
<path id="curve-b" d="M357.0,1283.1 388.5,1283.0 409.8,1282.9 424.5,1282.7 434.8,1282.4 439.0,1282.1 442.5,1281.9 445.5,1281.6 448.0,1281.2 450.2,1280.8 452.2,1280.2 454.0,1279.6 455.5,1278.9 457.0,1277.9 458.2,1276.8 459.2,1275.7 460.2,1274.3 461.2,1272.4 462.0,1270.6 462.8,1268.4 463.5,1265.6 464.2,1262.1 464.8,1259.2 465.8,1252.0 466.5,1245.3 468.0,1229.6 468.5,1225.2 469.0,1222.2 469.2,1221.4 469.5,1221.1 469.8,1221.4 470.0,1222.2 470.5,1225.2 471.0,1229.6 472.8,1247.6 473.2,1252.0 474.0,1257.6 474.8,1262.0 475.5,1265.5 476.2,1268.3 477.2,1271.1 477.8,1272.3 478.5,1273.7 479.0,1274.5 479.8,1275.5 480.5,1276.4 481.2,1277.1 482.0,1277.7 483.0,1278.4 484.0,1278.9 485.2,1279.5 486.5,1279.9 487.8,1280.2 490.8,1280.8 494.2,1281.2 497.0,1281.4 499.8,1281.4 502.8,1281.4 505.5,1281.3 508.0,1281.2 510.2,1281.0 512.2,1280.7 514.2,1280.3 515.8,1279.9 517.2,1279.4 518.5,1278.8 519.5,1278.2 520.5,1277.5 521.5,1276.7 522.5,1275.6 523.2,1274.5 524.0,1273.3 524.5,1272.3 525.2,1270.5 525.8,1269.1 526.8,1265.6 527.8,1260.7 528.5,1255.9 529.2,1249.9 531.2,1229.9 531.8,1225.7 532.2,1222.9 532.5,1222.2 532.8,1222.0 533.0,1222.4 533.2,1223.3 533.8,1226.4 534.2,1230.9 536.0,1248.6 536.5,1252.9 537.2,1258.3 538.0,1262.6 538.8,1266.0 539.8,1269.5 540.8,1272.1 541.2,1273.1 542.0,1274.4 542.8,1275.5 543.5,1276.4 544.2,1277.2 545.0,1277.8 546.0,1278.5 547.0,1279.1 548.0,1279.5 549.2,1280.0 552.0,1280.8 555.2,1281.4 559.5,1281.8 565.0,1282.2 571.8,1282.5 580.5,1282.6 592.0,1282.8 610.0,1282.9 631.2,1282.9 650.2,1282.8 665.2,1282.6 673.8,1282.5 683.8,1282.2 688.0,1282.1 691.8,1281.9 695.5,1281.5 698.8,1281.1 701.5,1280.5 703.8,1279.9 705.5,1279.2 707.2,1278.2 708.8,1277.1 710.0,1275.9 711.2,1274.2 712.2,1272.4 713.2,1270.1 714.0,1267.9 714.8,1265.1 715.2,1262.9 716.2,1257.3 717.2,1249.9 719.2,1232.0 719.8,1228.7 720.0,1227.6 720.2,1226.8 720.5,1226.5 720.8,1226.7 721.0,1227.2 721.2,1228.1 721.8,1230.8 723.2,1241.0 723.8,1243.8 724.2,1246.0 724.8,1247.5 725.0,1248.0 725.2,1248.4 725.5,1248.5 725.8,1248.5 726.0,1248.3 726.2,1248.0 726.8,1246.8 727.0,1245.9 727.5,1243.6 728.2,1238.9 730.0,1225.7 730.5,1223.3 730.8,1222.6 731.0,1222.4 731.2,1222.7 731.5,1223.5 731.8,1224.7 732.2,1228.2 734.2,1247.6 734.8,1251.9 735.5,1257.3 736.2,1261.7 737.0,1265.2 737.8,1268.0 738.5,1270.2 739.5,1272.5 740.0,1273.5 740.8,1274.7 741.5,1275.7 742.2,1276.5 743.0,1277.2 744.0,1278.0 745.0,1278.6 746.0,1279.2 747.0,1279.6 748.2,1280.0 750.8,1280.7 753.8,1281.2 757.2,1281.5 760.8,1281.5 764.0,1281.4 765.5,1281.2 767.0,1280.9 769.2,1280.3 770.2,1279.9 771.2,1279.5 772.0,1279.0 772.8,1278.5 773.5,1277.8 774.2,1277.0 775.2,1275.5 776.2,1273.6 777.2,1271.0 778.0,1268.4 778.8,1265.1 779.2,1262.5 781.5,1248.9 782.0,1246.9 782.2,1246.3 782.5,1246.0 782.8,1246.1 783.0,1246.4 783.2,1247.1 783.8,1249.2 786.0,1262.9 786.5,1265.5 787.2,1268.7 788.0,1271.3 788.8,1273.3 789.5,1275.0 790.2,1276.3 791.2,1277.6 792.5,1278.8 794.0,1279.9 795.8,1280.7 797.8,1281.4 800.0,1281.9 802.8,1282.3 806.2,1282.7 811.8,1283.0 818.8,1283.3 830.0,1283.5 837.8,1283.5 862.2,1283.4 900.0,1283.1 981.0,1283.1 1048.5,1282.9 1082.8,1282.8 1108.5,1282.6 1124.0,1282.3 1137.0,1282.1 1147.2,1281.7 1157.8,1281.2 1164.5,1280.8 1170.5,1280.1 1176.2,1279.3 1181.0,1278.4 1184.0,1277.6 1186.5,1276.8 1189.0,1275.8 1191.2,1274.7 1193.0,1273.7 1194.8,1272.4 1196.5,1270.9 1198.0,1269.2 1199.5,1267.3 1201.0,1265.0 1202.2,1262.7 1203.5,1260.1 1204.8,1257.1 1205.8,1254.2 1206.8,1250.9 1207.8,1247.0 1208.8,1242.3 1209.8,1236.6 1210.5,1231.4 1211.2,1225.2 1212.0,1217.8 1212.8,1209.0 1213.5,1198.7 1214.2,1186.7 1214.8,1177.1 1215.2,1165.7 1216.0,1142.7 1216.5,1120.1 1217.0,1087.3 1217.2,1086.3 1217.5,1085.9 1218.0,1085.5 1218.8,1085.1 1219.2,1085.1 1226.0,1085.1 1226.8,1085.2 1227.5,1085.6 1228.0,1086.3 1228.2,1087.3 1228.5,1114.7 1229.0,1138.8 1229.5,1156.1 1230.2,1175.0 1231.2,1193.3 1232.0,1204.4 1232.8,1213.9 1233.2,1219.4 1234.0,1226.5 1234.8,1232.5 1235.5,1237.6 1236.2,1241.8 1237.0,1245.5 1237.8,1248.7 1238.8,1252.3 1239.8,1255.4 1241.0,1258.7 1242.2,1261.5 1243.5,1263.9 1244.8,1266.0 1246.2,1268.2 1247.8,1270.0 1249.2,1271.5 1250.8,1272.7 1252.5,1273.9 1254.5,1275.0 1256.5,1276.0 1258.2,1276.7 1260.0,1277.2 1263.8,1278.3 1268.2,1279.2 1273.8,1280.0 1279.2,1280.6 1285.5,1281.0 1291.0,1281.3 1302.2,1281.8 1314.5,1282.1 1330.0,1282.3 1355.0,1282.8 1370.5,1282.9 1382.8,1282.9 1392.0,1282.7 1395.8,1282.5 1399.0,1282.3 1401.2,1282.0 1403.8,1281.6 1406.0,1281.2 1407.8,1280.7 1409.8,1279.9 1411.5,1279.0 1413.0,1277.9 1413.8,1277.2 1414.5,1276.4 1415.8,1274.7 1416.8,1272.9 1417.8,1270.5 1418.5,1268.2 1419.2,1265.3 1419.8,1263.0 1420.8,1257.1 1421.2,1253.4 1422.0,1246.8 1423.5,1231.5 1424.0,1226.9 1424.5,1223.6 1424.8,1222.6 1425.0,1222.1 1425.2,1222.1 1425.5,1222.6 1425.8,1223.7 1426.0,1225.2 1426.8,1231.6 1428.2,1246.5 1429.0,1252.8 1430.0,1259.3 1430.5,1261.8 1431.0,1264.0 1431.8,1266.6 1432.5,1268.5 1433.2,1270.1 1434.0,1271.2 1434.5,1271.8 1435.0,1272.3 1435.5,1272.6 1436.0,1272.9 1436.5,1273.0 1437.0,1273.1 1437.5,1273.1 1438.0,1272.9 1438.5,1272.7 1439.0,1272.4 1439.8,1271.8 1440.2,1271.2 1440.8,1270.5 1441.5,1269.2 1442.2,1267.4 1442.8,1265.9 1443.5,1263.2 1444.0,1261.0 1444.5,1258.3 1445.0,1255.1 1445.8,1249.4 1446.5,1242.4 1448.0,1226.2 1448.5,1221.6 1449.0,1218.5 1449.2,1217.7 1449.5,1217.4 1449.8,1217.7 1450.0,1218.6 1450.5,1221.8 1451.0,1226.5 1452.8,1245.6 1453.8,1254.4 1454.2,1257.9 1455.0,1262.3 1455.5,1264.7 1456.2,1267.6 1457.2,1270.7 1458.2,1273.0 1459.2,1274.7 1460.5,1276.4 1461.2,1277.2 1462.0,1277.8 1462.8,1278.4 1463.8,1279.0 1465.8,1280.0 1468.0,1280.8 1470.2,1281.3 1473.0,1281.7 1476.0,1282.1 1479.5,1282.3 1483.5,1282.5 1487.5,1282.5 1491.5,1282.4 1495.0,1282.2 1497.5,1281.9 1499.8,1281.6 1501.5,1281.2 1503.2,1280.7 1504.8,1280.1 1506.2,1279.3 1507.5,1278.5 1508.5,1277.5 1509.2,1276.7 1510.0,1275.6 1510.8,1274.4 1511.5,1272.8 1512.2,1270.8 1512.8,1269.2 1513.8,1265.2 1514.8,1259.8 1515.5,1254.5 1516.2,1248.1 1517.5,1236.5 1518.0,1232.5 1518.5,1229.9 1518.8,1229.1 1519.0,1228.9 1519.2,1229.1 1519.5,1229.9 1520.0,1232.6 1520.5,1236.5 1522.2,1252.5 1523.2,1259.8 1524.2,1265.3 1524.8,1267.5 1525.5,1270.2 1526.2,1272.3 1527.2,1274.5 1528.2,1276.2 1529.2,1277.4 1530.5,1278.7 1532.0,1279.7 1533.8,1280.6 1535.5,1281.3 1537.5,1281.8 1539.8,1282.2 1542.5,1282.6 1545.5,1282.9 1549.2,1283.2 1553.5,1283.4 1564.8,1283.7 1580.8,1283.9 1604.5,1284.0 1694.5,1284.2"/>
<path id="curve-a" d="M357.0,1510.0 445.8,1508.3 466.0,1507.8 479.8,1507.4 486.2,1507.1 492.0,1506.6 493.2,1506.3 494.2,1506.0 495.5,1505.3 496.5,1504.7 497.8,1503.7 498.2,1503.1 499.0,1501.7 499.5,1500.4 500.0,1498.8 500.5,1496.8 500.8,1495.6 501.0,1493.7 501.5,1488.2 501.8,1484.7 502.5,1469.4 503.0,1461.8 503.5,1456.4 504.0,1453.1 504.2,1451.7 504.8,1449.6 505.8,1446.6 506.0,1446.1 506.2,1445.9 506.5,1445.8 506.8,1446.2 507.0,1446.8 507.2,1447.8 508.0,1451.6 508.5,1455.0 509.8,1469.2 510.5,1479.8 511.0,1488.2 511.2,1490.4 511.8,1493.7 512.5,1497.1 513.2,1499.2 514.2,1501.4 515.2,1503.1 515.8,1503.7 516.2,1504.2 516.8,1504.5 517.8,1505.0 519.5,1505.6 520.8,1505.9 524.0,1506.2 526.2,1506.3 528.5,1506.3 533.2,1506.1 539.2,1505.6 543.8,1505.1 546.0,1504.8 549.0,1504.2 550.5,1503.7 551.8,1503.3 552.2,1503.1 553.0,1502.6 553.8,1502.0 554.5,1501.2 555.2,1500.4 556.2,1499.1 556.8,1498.4 557.2,1497.5 558.2,1495.1 559.5,1491.3 560.2,1488.3 561.2,1482.8 561.5,1481.2 562.5,1472.4 563.0,1469.2 563.5,1466.6 563.8,1465.6 564.5,1463.5 565.0,1462.5 565.2,1462.2 565.5,1462.1 565.8,1462.2 566.0,1462.5 566.5,1463.4 567.5,1466.3 568.0,1468.3 569.0,1474.6 570.0,1483.3 570.5,1486.7 571.0,1489.3 571.5,1491.4 572.0,1493.1 572.8,1495.3 573.5,1497.1 574.2,1498.6 575.2,1499.9 576.5,1501.3 577.5,1502.1 578.5,1502.7 579.2,1503.0 581.2,1503.5 583.2,1503.8 585.5,1504.0 595.0,1504.3 608.8,1504.5 623.0,1504.4 641.0,1504.0 671.8,1502.9 721.8,1501.4 738.2,1501.0 752.8,1500.8 754.8,1500.8 755.8,1500.7 757.2,1500.2 758.8,1499.5 760.5,1498.5 761.5,1497.7 762.5,1496.6 763.5,1495.1 764.5,1493.4 765.2,1491.8 765.8,1490.3 766.2,1488.5 767.5,1483.1 768.0,1480.1 768.8,1475.0 770.0,1465.0 771.0,1459.0 771.5,1456.5 772.0,1454.9 772.8,1453.4 773.2,1452.6 773.5,1452.3 773.8,1452.1 774.0,1452.0 774.2,1452.1 774.5,1452.4 774.8,1453.0 775.2,1454.7 776.0,1457.9 776.2,1459.2 777.2,1466.2 777.5,1467.3 778.5,1470.4 779.2,1472.4 780.0,1473.8 780.5,1474.3 780.8,1474.5 781.0,1474.5 781.2,1474.3 781.5,1473.9 782.0,1472.4 783.2,1466.9 784.8,1460.7 785.2,1459.1 785.5,1458.6 786.2,1457.8 786.8,1457.4 787.2,1457.1 787.8,1457.0 788.0,1457.1 788.2,1457.3 788.5,1457.7 788.8,1458.3 789.2,1459.8 790.2,1464.0 790.5,1465.8 792.2,1484.4 792.8,1487.8 793.2,1490.6 793.8,1492.9 794.0,1493.7 794.8,1495.6 795.5,1497.0 796.2,1498.1 796.8,1498.7 797.2,1499.2 799.0,1500.4 800.5,1501.1 801.8,1501.4 804.0,1501.6 807.0,1501.8 810.0,1501.9 811.5,1501.8 813.0,1501.6 815.2,1501.0 817.5,1500.3 818.5,1499.7 819.8,1498.6 820.8,1497.4 821.8,1496.0 822.2,1495.0 823.0,1493.0 823.8,1490.5 824.2,1488.6 825.5,1481.9 826.2,1479.1 827.0,1476.8 827.5,1476.0 828.5,1474.8 829.2,1474.2 829.8,1474.0 830.0,1474.0 830.2,1474.1 830.5,1474.3 831.0,1474.8 831.8,1476.0 832.8,1478.1 833.2,1479.7 834.2,1483.9 835.2,1489.2 835.8,1491.5 836.8,1494.7 837.2,1496.0 837.8,1497.0 838.5,1497.9 839.5,1499.0 840.5,1499.8 841.2,1500.2 842.0,1500.4 844.2,1500.8 846.0,1501.0 847.8,1501.2 891.0,1501.2 927.5,1500.9 1011.5,1499.7 1092.8,1498.3 1151.5,1497.7 1162.0,1497.5 1165.2,1497.3 1173.0,1496.6 1177.5,1496.4 1179.5,1496.4 1181.8,1496.5 1190.2,1497.3 1193.8,1497.5 1213.2,1497.4 1222.2,1497.1 1228.5,1496.7 1232.8,1496.4 1236.2,1496.1 1239.5,1495.7 1242.8,1495.2 1245.5,1494.7 1246.8,1494.4 1248.0,1493.9 1252.5,1491.7 1254.2,1490.9 1255.8,1490.4 1259.2,1489.4 1261.0,1488.8 1262.8,1487.9 1263.8,1487.2 1264.5,1486.4 1265.5,1485.0 1266.5,1483.3 1267.2,1481.7 1267.8,1480.3 1268.5,1477.6 1269.2,1474.5 1269.8,1472.0 1270.5,1467.0 1272.0,1456.0 1273.0,1447.7 1274.0,1437.0 1274.8,1426.4 1275.2,1417.2 1275.5,1411.0 1276.5,1378.4 1277.2,1346.2 1278.0,1301.9 1278.2,1301.0 1278.5,1300.7 1279.0,1300.3 1279.8,1300.1 1284.2,1300.1 1284.8,1300.2 1285.2,1300.4 1285.8,1301.0 1286.0,1301.9 1286.2,1316.1 1287.8,1378.9 1288.2,1396.3 1288.8,1409.7 1290.0,1437.7 1290.5,1447.7 1290.8,1451.5 1291.5,1459.7 1292.0,1463.9 1292.5,1467.0 1293.5,1470.7 1294.0,1472.2 1294.5,1473.4 1295.0,1474.4 1295.5,1475.1 1296.8,1476.4 1297.5,1477.1 1298.5,1477.8 1305.2,1481.9 1306.8,1483.0 1308.5,1484.4 1313.0,1488.3 1318.0,1492.2 1319.8,1493.3 1322.2,1494.4 1324.5,1495.2 1325.5,1495.4 1326.5,1495.5 1358.8,1495.5 1376.5,1495.2 1400.0,1494.6 1411.5,1494.2 1421.2,1493.7 1427.0,1493.3 1431.8,1492.8 1435.2,1492.3 1438.8,1491.7 1443.0,1490.7 1447.0,1489.4 1447.5,1489.2 1448.2,1488.7 1450.8,1486.7 1451.5,1486.2 1452.0,1486.1 1452.5,1486.0 1458.2,1486.0 1459.0,1485.9 1459.8,1485.5 1461.0,1484.6 1462.5,1483.2 1464.0,1481.4 1464.8,1480.1 1465.5,1478.5 1466.5,1475.8 1467.8,1471.8 1468.5,1469.0 1469.2,1465.5 1470.0,1461.4 1470.8,1456.9 1471.5,1451.5 1473.0,1438.5 1474.5,1423.0 1475.8,1412.4 1476.2,1409.7 1477.2,1406.6 1478.0,1405.0 1478.5,1404.4 1478.8,1404.2 1479.0,1404.2 1479.2,1404.3 1479.5,1404.5 1480.0,1405.2 1480.5,1406.2 1481.2,1408.1 1482.8,1412.4 1483.2,1414.5 1484.2,1419.3 1484.5,1420.2 1484.8,1420.7 1485.5,1421.2 1486.2,1421.7 1487.2,1422.1 1488.0,1422.3 1489.2,1422.4 1492.0,1422.1 1493.0,1422.1 1493.2,1422.2 1493.8,1422.7 1494.5,1423.9 1495.2,1425.7 1496.0,1427.7 1496.5,1429.6 1499.5,1446.8 1500.0,1449.3 1500.8,1452.4 1501.8,1456.1 1503.0,1460.2 1504.5,1464.5 1506.0,1468.4 1507.2,1471.4 1508.5,1473.9 1511.0,1478.5 1512.0,1480.1 1512.8,1481.1 1513.8,1482.2 1515.0,1483.0 1517.0,1484.0 1519.0,1484.8 1520.2,1485.1 1521.8,1485.4 1524.2,1485.7 1526.5,1485.9 1528.0,1486.0 1529.2,1486.0 1530.8,1485.8 1532.2,1485.6 1534.5,1485.1 1537.8,1484.3 1539.2,1483.9 1540.8,1483.3 1542.5,1482.5 1544.0,1481.6 1544.8,1481.0 1545.8,1479.9 1546.5,1478.9 1547.5,1477.4 1549.5,1473.9 1550.5,1471.7 1551.5,1469.0 1552.8,1464.8 1553.8,1460.8 1555.5,1451.2 1556.8,1444.7 1557.5,1441.4 1558.5,1438.5 1559.5,1436.1 1560.0,1435.2 1560.2,1434.9 1560.5,1434.6 1560.8,1434.5 1561.0,1434.5 1561.2,1434.6 1561.5,1434.9 1561.8,1435.2 1562.2,1436.2 1563.2,1438.9 1564.2,1442.4 1564.8,1445.1 1565.8,1452.1 1567.2,1461.8 1567.8,1464.7 1568.2,1466.9 1569.0,1469.4 1569.8,1471.5 1570.5,1473.2 1571.5,1475.1 1573.0,1477.1 1574.5,1478.7 1576.2,1480.3 1577.5,1481.1 1578.8,1481.8 1582.0,1483.1 1584.8,1484.0 1586.0,1484.3 1587.2,1484.5 1588.2,1484.6 1589.5,1484.6 1592.0,1484.3 1597.2,1483.4 1598.8,1483.2 1600.0,1483.2 1602.8,1483.4 1608.8,1484.1 1610.2,1484.2 1611.5,1484.2 1612.5,1484.1 1613.5,1483.8 1617.2,1482.4 1618.8,1481.9 1622.0,1481.4 1625.2,1481.0 1627.8,1480.8 1629.8,1480.8 1631.0,1481.0 1634.0,1481.7 1634.8,1481.8 1635.5,1481.8 1636.2,1481.6 1637.0,1481.3 1640.2,1479.6 1641.0,1479.3 1641.8,1479.0 1644.0,1478.8 1648.8,1478.5 1650.8,1478.3 1652.5,1477.9 1656.2,1476.9 1658.0,1476.6 1660.0,1476.6 1665.8,1476.9 1667.8,1476.9 1668.5,1476.7 1669.2,1476.3 1672.2,1474.4 1673.5,1473.9 1674.2,1473.8 1683.0,1473.8 1684.2,1473.7 1686.2,1473.2 1690.5,1471.8 1692.5,1471.0 1694.5,1470.2"/>
</defs>
<use href="#curve-f" class="u"/><use href="#curve-f" class="c"/>
<use href="#curve-e" class="u"/><use href="#curve-e" class="c"/>
<use href="#curve-d" class="u"/><use href="#curve-d" class="c"/>
<use href="#curve-c" class="u"/><use href="#curve-c" class="c"/>
<use href="#curve-b" class="u"/><use href="#curve-b" class="c"/>
<use href="#curve-a" class="u"/><use href="#curve-a" class="c"/>
<text x="407.7" y="269.5">f</text>
<text x="407.7" y="529.3">e</text>
<text x="407.7" y="786.5">d</text>
<text x="407.7" y="1037.0">c</text>
<text x="407.9" y="1261.9">b</text>
<text x="408.2" y="1487.0">a</text>
<text x="797.3" y="258.2">8.0 GPa (Calc.)</text>
<text x="797.3" y="530.0">8.0 GPa (Calc.)</text>
<text x="797.3" y="780.9">8.0 GPa (Calc.)</text>
<text x="796.5" y="980.2">8.8 GPa (Exp.)</text>
<text x="797.0" y="1446.3">0.1 MPa (Exp.)</text>
<text x="798.6" y="1246.0">1.5 GPa<tspan dx="-9.75"> (Calc.)</tspan></text>
<text x="440.8" y="1697.7" text-anchor="middle" letter-spacing="1.6">400</text>
<text x="734" y="1697.7" text-anchor="middle" letter-spacing="1.6">600</text>
<text x="1026" y="1697.7" text-anchor="middle" letter-spacing="1.6">800</text>
<text x="1236.7" y="1697.7" letter-spacing="1.6">1<tspan dx="-4.35"> 000</tspan></text>
<text x="1531.9" y="1697.7" letter-spacing="1.6">1<tspan dx="-5.35"> 200</tspan></text>
<text x="719" y="1802">Raman frequency/cm<tspan dy="-22.5" font-size="37">−1</tspan></text>
<text transform="translate(271.6,1033.2) rotate(-90)">Intensity (a.u.)</text>
</svg>
</body>
</html>
